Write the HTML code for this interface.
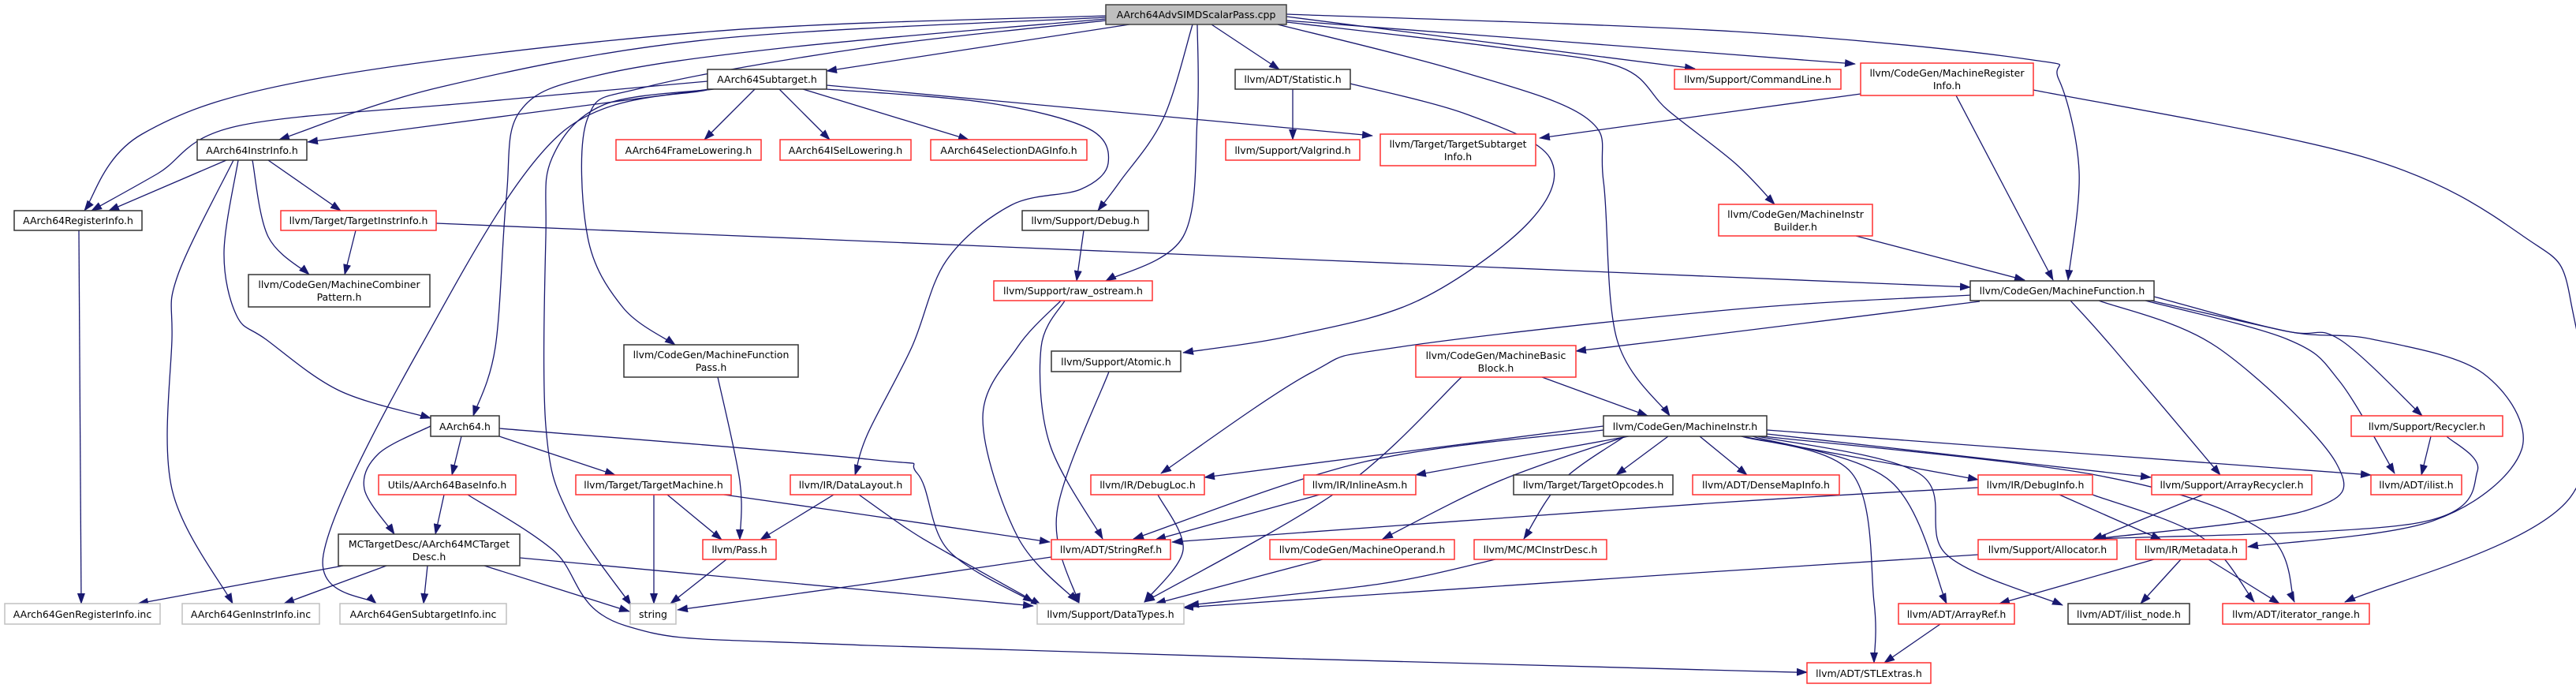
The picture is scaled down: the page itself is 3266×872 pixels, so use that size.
<!DOCTYPE html>
<html><head><meta charset="utf-8"><style>
html,body{margin:0;padding:0;background:#fff;}
svg{display:block;}
text{font-family:"DejaVu Sans","Liberation Sans",sans-serif;font-size:12.5px;fill:#000;text-anchor:middle;}
.k{fill:#fff;stroke:#333;stroke-width:1.5;}
.r{fill:#fff;stroke:#ff3030;stroke-width:1.5;}
.g{fill:#fff;stroke:#c0c0c0;stroke-width:1.5;}
.root{fill:#bfbfbf;stroke:#404040;stroke-width:1.5;}
.e{fill:none;stroke:#191970;stroke-width:1.3;}
</style></head><body>
<svg id="s" width="3266" height="872" viewBox="0 0 3266 872" xmlns="http://www.w3.org/2000/svg">
<defs><marker id="a" markerWidth="14" markerHeight="10" refX="13" refY="5" orient="auto" markerUnits="userSpaceOnUse"><path d="M0,0 L14,5 L0,10 z" fill="#191970"/></marker></defs>
<g id="edges"></g>
<g id="nodes">
<rect class="root" x="1402" y="6" width="229" height="25"/><text x="1516.5" y="23">AArch64AdvSIMDScalarPass.cpp</text>
<rect class="k" x="897" y="88" width="151" height="25"/><text x="972.5" y="105">AArch64Subtarget.h</text>
<rect class="k" x="1566" y="88" width="146" height="25"/><text x="1639" y="105">llvm/ADT/Statistic.h</text>
<rect class="r" x="2123" y="88" width="211" height="25"/><text x="2228.5" y="105">llvm/Support/CommandLine.h</text>
<rect class="r" x="2359" y="80" width="219" height="41"/><text x="2468.5" y="97">llvm/CodeGen/MachineRegister</text><text x="2468.5" y="113">Info.h</text>
<rect class="k" x="250" y="177" width="139" height="26"/><text x="319.5" y="195">AArch64InstrInfo.h</text>
<rect class="r" x="781" y="177" width="184" height="26"/><text x="873" y="195">AArch64FrameLowering.h</text>
<rect class="r" x="989" y="177" width="166" height="26"/><text x="1072" y="195">AArch64ISelLowering.h</text>
<rect class="r" x="1180" y="177" width="198" height="26"/><text x="1279" y="195">AArch64SelectionDAGInfo.h</text>
<rect class="r" x="1554" y="177" width="170" height="26"/><text x="1639" y="195">llvm/Support/Valgrind.h</text>
<rect class="r" x="1750" y="170" width="197" height="40"/><text x="1848.5" y="187">llvm/Target/TargetSubtarget</text><text x="1848.5" y="203">Info.h</text>
<rect class="k" x="18" y="267" width="162" height="25"/><text x="99" y="284">AArch64RegisterInfo.h</text>
<rect class="r" x="356" y="267" width="197" height="25"/><text x="454.5" y="284">llvm/Target/TargetInstrInfo.h</text>
<rect class="k" x="1296" y="267" width="160" height="25"/><text x="1376" y="284">llvm/Support/Debug.h</text>
<rect class="r" x="2179" y="259" width="195" height="40"/><text x="2276.5" y="276">llvm/CodeGen/MachineInstr</text><text x="2276.5" y="292">Builder.h</text>
<rect class="k" x="315" y="348" width="230" height="41"/><text x="430" y="365">llvm/CodeGen/MachineCombiner</text><text x="430" y="381">Pattern.h</text>
<rect class="r" x="1260" y="356" width="201" height="25"/><text x="1360.5" y="373">llvm/Support/raw_ostream.h</text>
<rect class="k" x="2498" y="356" width="233" height="25"/><text x="2614.5" y="373">llvm/CodeGen/MachineFunction.h</text>
<rect class="k" x="791" y="437" width="221" height="41"/><text x="901.5" y="454">llvm/CodeGen/MachineFunction</text><text x="901.5" y="470">Pass.h</text>
<rect class="k" x="1333" y="445" width="164" height="26"/><text x="1415" y="463">llvm/Support/Atomic.h</text>
<rect class="r" x="1795" y="438" width="203" height="40"/><text x="1896.5" y="455">llvm/CodeGen/MachineBasic</text><text x="1896.5" y="471">Block.h</text>
<rect class="k" x="546" y="527" width="87" height="26"/><text x="589.5" y="545">AArch64.h</text>
<rect class="k" x="2033" y="527" width="207" height="26"/><text x="2136.5" y="545">llvm/CodeGen/MachineInstr.h</text>
<rect class="r" x="2981" y="527" width="192" height="26"/><text x="3077" y="545">llvm/Support/Recycler.h</text>
<rect class="r" x="480" y="602" width="174" height="25"/><text x="567" y="619">Utils/AArch64BaseInfo.h</text>
<rect class="r" x="730" y="602" width="197" height="25"/><text x="828.5" y="619">llvm/Target/TargetMachine.h</text>
<rect class="r" x="1002" y="602" width="153" height="25"/><text x="1078.5" y="619">llvm/IR/DataLayout.h</text>
<rect class="r" x="1383" y="602" width="144" height="25"/><text x="1455" y="619">llvm/IR/DebugLoc.h</text>
<rect class="r" x="1653" y="602" width="142" height="25"/><text x="1724" y="619">llvm/IR/InlineAsm.h</text>
<rect class="k" x="1919" y="602" width="202" height="25"/><text x="2020" y="619">llvm/Target/TargetOpcodes.h</text>
<rect class="r" x="2146" y="602" width="186" height="25"/><text x="2239" y="619">llvm/ADT/DenseMapInfo.h</text>
<rect class="r" x="2508" y="602" width="145" height="25"/><text x="2580.5" y="619">llvm/IR/DebugInfo.h</text>
<rect class="r" x="2728" y="602" width="203" height="25"/><text x="2829.5" y="619">llvm/Support/ArrayRecycler.h</text>
<rect class="r" x="3006" y="602" width="115" height="25"/><text x="3063.5" y="619">llvm/ADT/ilist.h</text>
<rect class="k" x="429" y="677" width="230" height="40"/><text x="544" y="694">MCTargetDesc/AArch64MCTarget</text><text x="544" y="710">Desc.h</text>
<rect class="r" x="891" y="684" width="93" height="25"/><text x="937.5" y="701">llvm/Pass.h</text>
<rect class="r" x="1333" y="684" width="151" height="25"/><text x="1408.5" y="701">llvm/ADT/StringRef.h</text>
<rect class="r" x="1610" y="684" width="234" height="25"/><text x="1727" y="701">llvm/CodeGen/MachineOperand.h</text>
<rect class="r" x="1869" y="684" width="168" height="25"/><text x="1953" y="701">llvm/MC/MCInstrDesc.h</text>
<rect class="r" x="2508" y="684" width="176" height="25"/><text x="2596" y="701">llvm/Support/Allocator.h</text>
<rect class="r" x="2708" y="684" width="140" height="25"/><text x="2778" y="701">llvm/IR/Metadata.h</text>
<rect class="g" x="6" y="765" width="197" height="26"/><text x="104.5" y="783">AArch64GenRegisterInfo.inc</text>
<rect class="g" x="231" y="765" width="174" height="26"/><text x="318" y="783">AArch64GenInstrInfo.inc</text>
<rect class="g" x="431" y="765" width="211" height="26"/><text x="536.5" y="783">AArch64GenSubtargetInfo.inc</text>
<rect class="g" x="799" y="765" width="58" height="26"/><text x="828" y="783">string</text>
<rect class="g" x="1315" y="765" width="186" height="26"/><text x="1408" y="783">llvm/Support/DataTypes.h</text>
<rect class="r" x="2407" y="765" width="147" height="26"/><text x="2480.5" y="783">llvm/ADT/ArrayRef.h</text>
<rect class="k" x="2622" y="765" width="154" height="26"/><text x="2699" y="783">llvm/ADT/ilist_node.h</text>
<rect class="r" x="2818" y="765" width="186" height="26"/><text x="2911" y="783">llvm/ADT/iterator_range.h</text>
<rect class="r" x="2291" y="840" width="157" height="26"/><text x="2369.5" y="858">llvm/ADT/STLExtras.h</text>
</g>
</svg>
<script>
var E=[
[[1402,20],[900,40],[400,100],[180,170],[107,267]],
[[1402,22],[900,50],[560,110],[354,177]],
[[1402,24],[1000,60],[760,95],[660,140],[642,250],[628,440],[600,527]],
[[1402,26],[1100,60],[820,110],[745,150],[745,300],[790,390],[856,437]],
[[1432,31],[1048,90]],
[[1536,31],[1622,88]],
[[1512,31],[1475,150],[1420,230],[1392,267]],
[[1518,31],[1518,150],[1500,300],[1402,356]],
[[1631,21],[2149,87]],
[[1631,26],[2352,81]],
[[1631,18],[2200,40],[2570,75],[2610,100],[2636,217],[2622,355]],
[[1631,28],[1900,60],[2054,85],[2115,140],[2200,207],[2250,259]],
[[1620,31],[1850,90],[2012,150],[2033,230],[2050,430],[2117,527]],
[[897,103],[600,130],[300,160],[200,220],[116,267]],
[[900,113],[390,180]],
[[957,113],[893,177]],
[[988,113],[1052,177]],
[[1018,113],[1228,177]],
[[1048,108],[1740,172]],
[[1048,113],[1250,130],[1380,163],[1405,207],[1370,240],[1282,260],[1200,330],[1156,440],[1100,550],[1084,602]],
[[900,113],[710,170],[533,440],[410,703],[477,765]],
[[905,113],[765,133],[700,200],[692,300],[692,540],[720,650],[800,767]],
[[287,203],[138,267]],
[[340,203],[432,267]],
[[320,203],[340,300],[392,348]],
[[302,203],[284,320],[300,400],[337,430],[430,495],[546,530]],
[[296,203],[225,350],[218,430],[218,620],[295,765]],
[[100,292],[103,765]],
[[451,292],[437,348]],
[[553,283],[2498,364]],
[[585,553],[573,602]],
[[633,553],[780,602]],
[[546,540],[480,575],[462,620],[500,677]],
[[633,543],[1100,582],[1163,600],[1202,697],[1310,763]],
[[563,627],[552,677]],
[[593,627],[701,697],[793,793],[1100,818],[2200,850],[2291,852]],
[[829,627],[829,765]],
[[846,627],[915,684]],
[[918,627],[1100,653],[1331,687]],
[[1057,627],[964,684]],
[[1089,627],[1150,670],[1200,700],[1320,767]],
[[435,717],[175,765]],
[[490,717],[360,765]],
[[542,717],[537,765]],
[[614,717],[798,775]],
[[659,707],[1100,748],[1310,768]],
[[921,709],[850,765]],
[[910,478],[938,610],[938,684]],
[[1374,292],[1365,356]],
[[1639,113],[1639,177]],
[[1712,106],[1860,145],[1965,200],[1940,280],[1800,380],[1640,425],[1500,447]],
[[1345,381],[1290,440],[1246,530],[1290,680],[1366,763]],
[[1350,381],[1320,440],[1331,563],[1398,683]],
[[1406,471],[1340,650],[1368,765]],
[[1333,706],[1100,740],[859,773]],
[[1468,627],[1500,697],[1451,763]],
[[1673,627],[1465,684]],
[[1677,709],[1465,765]],
[[1896,709],[1750,740],[1507,767]],
[[1853,478],[1700,620],[1451,763]],
[[1955,478],[2089,527]],
[[2499,374],[2200,392],[1773,440],[1661,473],[1472,600]],
[[2510,382],[2124,430],[1998,445]],
[[2625,381],[2678,440],[2815,602]],
[[2661,381],[2811,440],[2962,587],[2924,647],[2657,683]],
[[2720,381],[2900,430],[2966,483],[3036,600]],
[[2727,381],[2900,420],[2966,430],[3071,527]],
[[2731,376],[2900,420],[3008,430],[3148,473],[3197,570],[3085,660],[2850,693]],
[[2480,121],[2603,355]],
[[2578,114],[3000,200],[3200,300],[3259,380],[3259,630],[2973,763]],
[[2359,119],[1952,175]],
[[2353,299],[2567,355]],
[[3082,553],[3070,602]],
[[3102,553],[3141,597],[3064,663],[2657,683]],
[[2508,618],[2166,638],[1486,687]],
[[2611,627],[2740,684]],
[[2653,627],[2790,680],[2858,763]],
[[2793,627],[2653,684]],
[[2508,703],[2166,725],[1500,770]],
[[2731,709],[2535,765]],
[[2765,709],[2714,765]],
[[2800,709],[2890,765]],
[[2460,791],[2389,840]],
[[2033,540],[1527,605]],
[[2033,545],[1731,585],[1437,683]],
[[2065,553],[1795,602]],
[[2115,553],[2049,602]],
[[2155,553],[2215,602]],
[[2062,553],[1900,610],[1753,683]],
[[2060,553],[1980,610],[1932,683]],
[[2208,553],[2508,608]],
[[2240,550],[2727,605]],
[[2240,545],[3006,602]],
[[2236,553],[2657,602],[2867,671],[2909,763]],
[[2208,553],[2348,600],[2376,763],[2376,840]],
[[2222,553],[2397,610],[2468,765]],
[[2229,553],[2433,600],[2468,703],[2615,767]]
];
var g=document.getElementById('edges'),ns='http://www.w3.org/2000/svg';
E.forEach(function(p){
 var d='M'+p[0][0]+','+p[0][1];
 for(var i=0;i<p.length-1;i++){
  var p0=p[i-1]||p[i],p1=p[i],p2=p[i+1],p3=p[i+2]||p2;
  var c1=[p1[0]+(p2[0]-p0[0])/6,p1[1]+(p2[1]-p0[1])/6];
  var c2=[p2[0]-(p3[0]-p1[0])/6,p2[1]-(p3[1]-p1[1])/6];
  d+=' C'+c1[0].toFixed(1)+','+c1[1].toFixed(1)+' '+c2[0].toFixed(1)+','+c2[1].toFixed(1)+' '+p2[0]+','+p2[1];
 }
 var e=document.createElementNS(ns,'path');
 e.setAttribute('d',d);e.setAttribute('class','e');e.setAttribute('marker-end','url(#a)');
 g.appendChild(e);
});
</script>
</body></html>
